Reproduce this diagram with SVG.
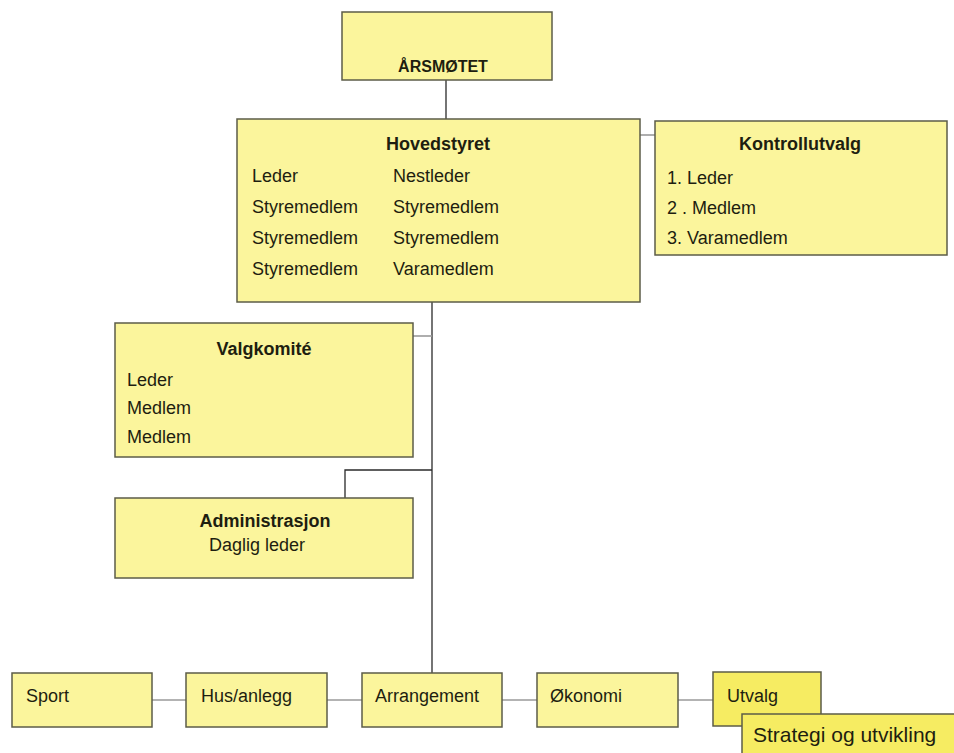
<svg xmlns="http://www.w3.org/2000/svg" width="954" height="753" viewBox="0 0 954 753">
<style>
.box{fill:#FBF59C;stroke:#5c5c48;stroke-width:1.5}
.box2{fill:#F6EC62;stroke:#5c5c48;stroke-width:1.5}
text{font-family:"Liberation Sans",Arial,sans-serif;font-size:18px;fill:#1e1e10}
.b{font-weight:bold}
.c{text-anchor:middle}
.dk{stroke:#2a2a2a;stroke-width:1.3;fill:none}
.lt{stroke:#9a9a9a;stroke-width:1.6;fill:none}
</style>
<rect width="954" height="753" fill="#ffffff"/>
<g id="connectors">
<line class="dk" x1="446" y1="80" x2="446" y2="119"/>
<line class="lt" x1="640" y1="135" x2="655" y2="135"/>
<line class="dk" x1="432" y1="302" x2="432" y2="673"/>
<line class="lt" x1="413" y1="336" x2="432" y2="336"/>
<polyline class="dk" points="345,498 345,470 432,470"/>
<line class="lt" x1="152" y1="700" x2="186" y2="700"/>
<line class="lt" x1="327" y1="700" x2="362" y2="700"/>
<line class="lt" x1="502" y1="700" x2="537" y2="700"/>
<line class="lt" x1="678" y1="700" x2="713" y2="700"/>
</g>
<g id="arsmotet">
<rect class="box" x="342" y="12" width="210" height="68"/>
<text class="b c" x="443" y="72" style="font-size:16px">ÅRSMØTET</text>
</g>
<g id="hovedstyret">
<rect class="box" x="237" y="119" width="403" height="183"/>
<text class="b c" x="438" y="150">Hovedstyret</text>
<text x="252" y="182">Leder</text>
<text x="393" y="182">Nestleder</text>
<text x="252" y="213">Styremedlem</text>
<text x="393" y="213">Styremedlem</text>
<text x="252" y="244">Styremedlem</text>
<text x="393" y="244">Styremedlem</text>
<text x="252" y="275">Styremedlem</text>
<text x="393" y="275">Varamedlem</text>
</g>
<g id="kontrollutvalg">
<rect class="box" x="655" y="121" width="292" height="134"/>
<text class="b c" x="800" y="150">Kontrollutvalg</text>
<text x="667" y="184">1. Leder</text>
<text x="667" y="214">2 . Medlem</text>
<text x="667" y="244">3. Varamedlem</text>
</g>
<g id="valgkomite">
<rect class="box" x="115" y="323" width="298" height="134"/>
<text class="b c" x="264" y="355">Valgkomité</text>
<text x="127" y="386">Leder</text>
<text x="127" y="414">Medlem</text>
<text x="127" y="443">Medlem</text>
</g>
<g id="administrasjon">
<rect class="box" x="115" y="498" width="298" height="80"/>
<text class="b c" x="265" y="527">Administrasjon</text>
<text class="c" x="257" y="551">Daglig leder</text>
</g>
<g id="sport">
<rect class="box" x="12" y="673" width="140" height="54"/>
<text x="26" y="702">Sport</text>
</g>
<g id="husanlegg">
<rect class="box" x="186" y="673" width="141" height="54"/>
<text x="201" y="702">Hus/anlegg</text>
</g>
<g id="arrangement">
<rect class="box" x="362" y="673" width="140" height="54"/>
<text x="375" y="702">Arrangement</text>
</g>
<g id="okonomi">
<rect class="box" x="537" y="673" width="141" height="54"/>
<text x="550" y="702">Økonomi</text>
</g>
<g id="utvalg">
<rect class="box2" x="713" y="672" width="108" height="54"/>
<text x="727" y="702">Utvalg</text>
</g>
<g id="strategi">
<rect class="box2" x="742" y="714" width="220" height="50"/>
<text x="753" y="742" style="font-size:21px">Strategi og utvikling</text>
</g>
</svg>
